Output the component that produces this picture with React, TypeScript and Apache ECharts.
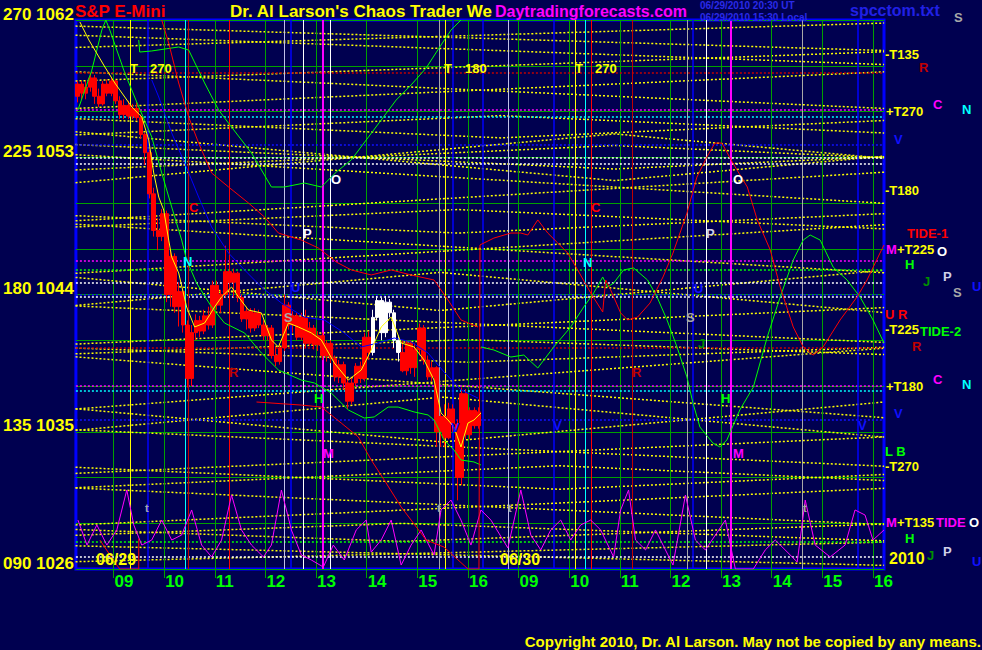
import React, { useEffect, useRef } from 'react';
import * as echarts from 'echarts';

// ---------- axis ticks ----------
const xTickHours = [0, 1, 2, 3, 4, 5, 6, 7, 8, 9, 10, 11, 12, 13, 14, 15];
const xTickLabels = ['09', '10', '11', '12', '13', '14', '15', '16', '09', '10', '11', '12', '13', '14', '15', '16'];
const yTickPrices = [1026, 1035, 1044, 1053, 1062];
const yTickAngles = ['090', '135', '180', '225', '270'];

// ---------- 5-minute candles from 08:15 on 06/29: [open, close, low, high] ----------
const candleStartHour = -0.75;
const candles = [
  [1057.0, 1057.8, 1056.6, 1058.0], [1057.8, 1057.2, 1056.8, 1058.0], [1057.2, 1057.6, 1056.8, 1058.0], [1057.6, 1058.2, 1057.3, 1058.5],
  [1058.2, 1057.0, 1056.5, 1058.4], [1057.0, 1056.5, 1056.3, 1057.5], [1056.5, 1057.8, 1056.4, 1058.0], [1057.8, 1057.2, 1057.0, 1058.1],
  [1057.2, 1058.0, 1057.0, 1058.2], [1058.0, 1056.7, 1056.5, 1058.1], [1056.7, 1055.8, 1055.5, 1057.0], [1055.8, 1056.4, 1055.5, 1056.8],
  [1056.4, 1055.7, 1055.5, 1056.7], [1055.7, 1056.2, 1055.5, 1056.5], [1056.2, 1055.6, 1055.4, 1056.6], [1055.6, 1054.5, 1054.2, 1055.8],
  [1054.5, 1053.3, 1052.5, 1054.6], [1053.3, 1050.6, 1050.3, 1053.5], [1050.6, 1048.2, 1047.8, 1051.0], [1048.2, 1047.8, 1046.9, 1049.0],
  [1047.8, 1049.3, 1047.5, 1049.6], [1049.3, 1044.0, 1043.5, 1049.5], [1044.0, 1046.5, 1043.2, 1047.0], [1046.5, 1043.2, 1042.8, 1046.7],
  [1043.2, 1044.2, 1041.9, 1044.8], [1044.2, 1042.0, 1041.5, 1044.4], [1042.0, 1038.5, 1037.9, 1042.3], [1038.5, 1041.5, 1038.0, 1042.0],
  [1041.5, 1042.3, 1041.0, 1042.7], [1042.3, 1041.6, 1041.2, 1042.6], [1041.6, 1042.6, 1041.4, 1043.0], [1042.6, 1042.0, 1041.7, 1043.2],
  [1042.0, 1044.6, 1041.8, 1044.9], [1044.6, 1043.3, 1043.0, 1044.9], [1043.3, 1044.0, 1042.8, 1044.3], [1044.0, 1045.5, 1043.8, 1047.2],
  [1045.5, 1044.8, 1044.5, 1046.5], [1044.8, 1045.4, 1043.8, 1045.7], [1045.4, 1043.8, 1043.5, 1045.5], [1043.8, 1042.4, 1042.2, 1044.0],
  [1042.4, 1042.9, 1041.7, 1043.2], [1042.9, 1041.8, 1041.5, 1043.1], [1041.8, 1042.8, 1041.6, 1043.1], [1042.8, 1042.0, 1041.8, 1043.0],
  [1042.0, 1041.3, 1041.0, 1042.3], [1041.3, 1041.8, 1041.0, 1042.0], [1041.8, 1040.0, 1039.8, 1042.0], [1040.0, 1039.6, 1039.3, 1040.6],
  [1039.6, 1040.5, 1039.4, 1040.8], [1040.5, 1043.3, 1040.3, 1044.0], [1043.3, 1042.0, 1041.7, 1043.5], [1042.0, 1042.6, 1041.5, 1042.9],
  [1042.6, 1041.2, 1041.0, 1042.8], [1041.2, 1042.5, 1041.0, 1042.8], [1042.5, 1040.8, 1040.5, 1043.0], [1040.8, 1041.8, 1040.6, 1042.2],
  [1041.8, 1040.7, 1040.4, 1042.0], [1040.7, 1041.3, 1040.3, 1041.6], [1041.3, 1040.0, 1039.7, 1041.5], [1040.0, 1040.8, 1039.6, 1041.0],
  [1040.8, 1039.8, 1039.5, 1041.0], [1039.8, 1038.6, 1038.3, 1040.0], [1038.6, 1039.4, 1038.2, 1039.7], [1039.4, 1038.2, 1037.8, 1039.6],
  [1038.2, 1037.0, 1036.5, 1038.5], [1037.0, 1038.2, 1036.8, 1038.6], [1038.2, 1039.3, 1038.0, 1039.5], [1039.3, 1038.5, 1038.2, 1039.6],
  [1038.5, 1041.2, 1038.3, 1041.5], [1041.2, 1040.2, 1039.7, 1041.6], [1040.2, 1042.5, 1040.0, 1043.0], [1042.5, 1043.6, 1042.3, 1043.9],
  [1043.6, 1041.5, 1041.0, 1043.8], [1041.5, 1043.5, 1041.2, 1043.9], [1043.5, 1042.8, 1042.5, 1043.7], [1042.8, 1041.0, 1040.5, 1043.0],
  [1041.0, 1040.2, 1039.6, 1041.3], [1040.2, 1039.0, 1038.9, 1041.0], [1039.0, 1040.8, 1038.7, 1041.0], [1040.8, 1039.2, 1038.8, 1041.0],
  [1039.2, 1040.4, 1038.6, 1040.8], [1040.4, 1041.8, 1040.0, 1042.1], [1041.8, 1039.7, 1039.4, 1042.0], [1039.7, 1038.6, 1038.4, 1040.0],
  [1038.6, 1039.2, 1038.3, 1039.6], [1039.2, 1035.0, 1034.0, 1039.3], [1035.0, 1036.0, 1034.0, 1036.2], [1036.0, 1034.6, 1034.0, 1036.8],
  [1034.6, 1036.5, 1034.5, 1036.9], [1036.5, 1035.5, 1035.0, 1036.8], [1035.5, 1032.0, 1030.5, 1035.8], [1032.0, 1037.5, 1031.5, 1037.9],
  [1037.5, 1034.8, 1034.5, 1037.8], [1034.8, 1036.4, 1034.5, 1036.6], [1036.4, 1035.4, 1035.2, 1036.6], [1035.4, 1036.3, 1035.2, 1036.6],
];
const whiteCandleFirst = 70;
const whiteCandleLast = 76;

// ---------- lines [hour index, price] ----------
const greenLine1 = [
  [-0.703, 1056.1], [-0.428, 1058.72], [-0.231, 1061.34], [-0.152, 1062.0], [-0.073, 1061.34], [0.223, 1058.52], [0.498, 1056.3],
  [0.755, 1054.33], [0.952, 1051.97], [1.149, 1049.74], [1.346, 1047.57], [1.444, 1046.26], [1.641, 1044.75], [1.937, 1043.18],
  [2.193, 1042.13], [2.587, 1041.48], [2.922, 1040.16], [3.257, 1039.05], [3.71, 1038.39], [3.966, 1038.2], [4.301, 1037.54],
  [4.637, 1036.43], [4.952, 1035.9], [5.149, 1035.97], [5.425, 1036.62], [5.622, 1036.62], [5.937, 1036.3], [6.213, 1036.1],
  [6.331, 1035.77], [6.528, 1034.46], [6.725, 1033.8], [6.863, 1033.15], [7.119, 1033.02], [7.257, 1032.82],
];
const greenLine2 = [
  [0.498, 1060.69], [0.518, 1059.9], [0.755, 1059.97], [1.287, 1060.23], [1.484, 1060.03], [1.799, 1057.87], [2.075, 1056.1],
  [2.331, 1054.98], [2.725, 1053.28], [3.119, 1051.05], [3.375, 1051.05], [3.769, 1051.31], [4.104, 1051.05], [4.4, 1052.03],
  [4.696, 1052.82], [4.991, 1054.13], [5.287, 1055.44], [5.582, 1056.75], [5.878, 1057.74], [6.174, 1058.85], [6.469, 1060.36],
  [6.666, 1061.34], [6.863, 1062.0],
];
const greenLine3 = [
  [7.257, 1040.56], [7.513, 1040.36], [7.848, 1039.9], [8.104, 1040.03], [8.38, 1039.18], [8.695, 1040.56], [9.03, 1041.87],
  [9.287, 1043.18], [9.484, 1044.1], [9.662, 1045.15], [9.76, 1044.49], [9.878, 1044.75], [10.075, 1045.61], [10.272, 1045.74],
  [10.548, 1044.95], [10.735, 1043.84], [10.932, 1042.33], [11.129, 1040.56], [11.326, 1038.59], [11.444, 1036.89], [11.582, 1035.31],
  [11.838, 1034.26], [11.976, 1034.0], [12.114, 1034.46], [12.37, 1036.43], [12.637, 1037.93], [12.912, 1041.21], [13.168, 1043.84],
  [13.425, 1046.26], [13.622, 1047.57], [13.76, 1047.9], [13.957, 1047.57], [14.213, 1045.8], [14.489, 1044.95], [14.745, 1043.84],
  [15.001, 1042.33], [15.218, 1040.82],
];
const redLine1 = [
  [0.952, 1062.0], [1.09, 1060.49], [1.287, 1057.87], [1.484, 1055.64], [1.681, 1053.93], [1.937, 1051.97], [2.272, 1051.05],
  [2.666, 1050.0], [2.981, 1049.08], [3.257, 1048.03], [3.71, 1047.57], [4.045, 1047.05], [4.4, 1046.13], [4.696, 1045.61],
  [5.09, 1045.28], [5.484, 1045.61], [5.878, 1045.28], [6.331, 1044.95], [6.607, 1043.64], [6.863, 1042.33], [7.198, 1041.87],
];
const redLine2 = [
  [2.824, 1036.95], [3.71, 1036.75], [4.104, 1036.62], [4.498, 1035.57], [4.834, 1034.66], [5.09, 1033.15], [5.346, 1031.84],
  [5.681, 1030.07], [5.878, 1029.21], [6.174, 1027.9], [6.528, 1027.44], [7.001, 1026.0], [7.218, 1026.0], [7.238, 1047.25],
  [7.513, 1047.7], [7.848, 1048.03], [8.045, 1048.03], [8.183, 1047.9], [8.38, 1048.89], [8.577, 1048.03], [8.774, 1047.38],
  [8.971, 1046.72], [9.168, 1045.61], [9.425, 1044.1], [9.662, 1042.85], [9.721, 1044.95], [9.819, 1044.3], [10.016, 1042.79],
  [10.154, 1042.33], [10.351, 1042.52], [10.597, 1043.44], [10.853, 1045.15], [11.05, 1046.72], [11.326, 1049.34], [11.523, 1051.7],
  [11.72, 1053.02], [11.878, 1053.93], [12.016, 1053.93], [12.233, 1052.62], [12.518, 1051.05], [12.715, 1048.89], [12.971, 1046.92],
  [13.168, 1044.49], [13.425, 1041.87], [13.622, 1040.56], [13.819, 1040.03], [14.016, 1040.56], [14.351, 1042.33], [14.686, 1043.84],
  [14.883, 1044.95], [15.139, 1046.72], [15.218, 1047.25],
];
const redLine0 = [[-0.27, 1027.9], [0.065, 1026.26], [0.125, 1026.0], [0.498, 1026.0], [0.498, 1028.0]];
const blueLine1 = [
  [0.755, 1058.07], [0.893, 1056.95], [1.149, 1054.59], [1.405, 1052.62], [1.681, 1050.39], [1.937, 1048.43], [2.272, 1046.72],
  [2.587, 1045.61], [2.922, 1044.49], [3.316, 1043.44], [3.769, 1042.52], [4.163, 1042.33], [4.558, 1041.48], [4.893, 1040.56],
  [5.228, 1040.82], [5.543, 1041.15], [5.878, 1040.89], [6.213, 1040.16], [6.528, 1038.92], [6.863, 1037.74], [7.198, 1037.21],
];
const yellowSmooth = [
  [-0.664, 1061.87], [-0.487, 1060.69], [-0.171, 1058.92], [0.026, 1057.87], [0.361, 1056.3], [0.558, 1055.64], [0.696, 1054.13],
  [0.794, 1051.97], [0.893, 1050.39], [0.991, 1049.54], [1.09, 1047.57], [1.149, 1046.46], [1.287, 1045.41], [1.444, 1043.18],
  [1.602, 1041.87], [1.799, 1042.13], [1.996, 1043.18], [2.134, 1043.84], [2.331, 1044.49], [2.469, 1043.84], [2.666, 1042.98],
  [2.922, 1042.79], [3.119, 1041.02], [3.257, 1040.56], [3.454, 1042.13], [3.651, 1041.87], [3.907, 1041.48], [4.104, 1041.02],
  [4.36, 1039.51], [4.637, 1038.39], [4.893, 1039.05], [5.09, 1040.36], [5.287, 1041.87], [5.484, 1042.52], [5.681, 1040.82],
  [5.937, 1040.56], [6.134, 1039.7], [6.331, 1038.39], [6.469, 1036.23], [6.607, 1035.77], [6.725, 1035.31], [6.863, 1034.0],
  [7.001, 1035.57], [7.119, 1035.77], [7.257, 1036.23],
];
const magentaOsc = [
  [-0.703, 1029.21], [-0.524, 1027.57], [-0.329, 1028.89], [-0.132, 1027.57], [0.065, 1028.56], [0.262, 1031.18], [0.4, 1028.89],
  [0.558, 1027.57], [0.755, 1027.9], [0.952, 1029.21], [1.149, 1027.9], [1.346, 1028.23], [1.543, 1029.87], [1.74, 1027.57],
  [1.937, 1026.79], [2.134, 1027.9], [2.331, 1030.85], [2.528, 1028.56], [2.725, 1027.57], [2.961, 1026.79], [3.119, 1027.57],
  [3.316, 1031.18], [3.513, 1028.56], [3.71, 1026.92], [3.907, 1026.59], [4.144, 1026.13], [4.341, 1027.57], [4.558, 1026.59],
  [4.794, 1028.56], [4.991, 1029.21], [5.09, 1027.11], [5.287, 1027.9], [5.484, 1029.21], [5.681, 1026.26], [5.878, 1027.57],
  [6.075, 1028.56], [6.331, 1026.92], [6.469, 1029.87], [6.666, 1030.52], [6.863, 1029.21], [7.06, 1027.57], [7.257, 1029.87],
  [7.454, 1029.21], [7.789, 1027.38], [8.045, 1031.18], [8.242, 1028.23], [8.439, 1027.25], [8.636, 1028.56], [8.833, 1029.21],
  [9.03, 1027.9], [9.227, 1028.89], [9.425, 1029.21], [9.622, 1028.56], [9.878, 1026.79], [10.016, 1029.87], [10.173, 1031.18],
  [10.311, 1027.9], [10.508, 1027.25], [10.705, 1028.56], [11.05, 1026.26], [11.296, 1030.85], [11.493, 1027.9], [11.69, 1027.25],
  [11.888, 1028.23], [12.085, 1029.21], [12.282, 1026.0], [12.637, 1026.0], [12.873, 1027.25], [13.07, 1027.9], [13.504, 1026.46],
  [13.662, 1030.52], [13.859, 1027.57], [14.154, 1026.79], [14.449, 1027.57], [14.646, 1029.87], [14.843, 1029.54], [15.001, 1027.9],
  [15.218, 1028.56],
];

// ---------- yellow dotted time/price guide lines ----------
const yellowGuides = [
  [[-0.75, 1061.6], [15.22, 1060.0]], [[-0.75, 1060.2], [15.22, 1061.8]],
  [[-0.75, 1061.0], [15.22, 1059.08]], [[-0.75, 1058.0], [15.22, 1059.92]],
  [[-0.75, 1058.6], [15.22, 1056.2]], [[-0.75, 1056.2], [15.22, 1058.6]],
  [[-0.75, 1055.53], [2.8, 1055], [7.65, 1054.27], [12.5, 1055], [15.22, 1055.41]],
  [[-0.75, 1054.47], [2.8, 1055], [7.65, 1055.73], [12.5, 1055], [15.22, 1054.59]],
  [[-0.75, 1054.67], [4.8, 1053], [9.9, 1051.47], [15, 1053], [15.22, 1053.07]],
  [[-0.75, 1051.33], [4.8, 1053], [9.9, 1054.53], [15, 1053], [15.22, 1052.93]],
  [[-0.75, 1053.83], [4.8, 1053], [9.9, 1052.23], [15, 1053], [15.22, 1053.03]],
  [[-0.75, 1052.17], [4.8, 1053], [9.9, 1053.77], [15, 1053], [15.22, 1052.97]],
  [[-0.75, 1053.17], [15.22, 1049.98]], [[-0.75, 1048.83], [15.22, 1052.02]],
  [[-0.75, 1049.17], [1.7, 1048.8], [6.8, 1048.03], [11.9, 1048.8], [15.22, 1049.3]],
  [[-0.75, 1048.43], [1.7, 1048.8], [6.8, 1049.57], [11.9, 1048.8], [15.22, 1048.3]],
  [[-0.75, 1048.61], [15.22, 1045.42]], [[-0.75, 1045.39], [15.22, 1048.58]],
  [[-0.75, 1045.12], [2.3, 1044.2], [6.45, 1042.95], [10.6, 1044.2], [15.22, 1045.59]],
  [[-0.75, 1043.28], [2.3, 1044.2], [6.45, 1045.45], [10.6, 1044.2], [15.22, 1042.81]],
  [[-0.75, 1043.25], [15.22, 1040.86]], [[-0.75, 1040.75], [15.22, 1043.14]],
  [[-0.75, 1040.49], [0.8, 1040.3], [7.0, 1039.56], [13.2, 1040.3], [15.22, 1040.54]],
  [[-0.75, 1040.11], [0.8, 1040.3], [7.0, 1041.04], [13.2, 1040.3], [15.22, 1040.06]],
  [[-0.75, 1039.91], [15.22, 1035.92]], [[-0.75, 1036.49], [15.22, 1040.48]],
  [[-0.75, 1036.51], [1.6, 1035.8], [6.5, 1034.33], [11.4, 1035.8], [15.22, 1036.95]],
  [[-0.75, 1035.09], [1.6, 1035.8], [6.5, 1037.27], [11.4, 1035.8], [15.22, 1034.65]],
  [[-0.75, 1035.13], [15.22, 1032.74]], [[-0.75, 1032.27], [15.22, 1034.66]],
  [[-0.75, 1032.67], [3.7, 1032], [8.8, 1031.23], [13.9, 1032], [15.22, 1032.2]],
  [[-0.75, 1031.33], [3.7, 1032], [8.8, 1032.77], [13.9, 1032], [15.22, 1031.8]],
  [[-0.75, 1031.31], [15.22, 1028.91]], [[-0.75, 1028.89], [15.22, 1031.29]],
  [[-0.75, 1028.59], [0.8, 1028.4], [5.7, 1027.81], [10.6, 1028.4], [15.22, 1028.95]],
  [[-0.75, 1028.21], [0.8, 1028.4], [5.7, 1028.99], [10.6, 1028.4], [15.22, 1027.85]],
  [[-0.75, 1027.52], [15.22, 1026.24]], [[-0.75, 1026.48], [15.22, 1027.76]],
];

// ---------- horizontal levels (price) ----------
const darkRedLevels = [1058.52, 1040.5];
const magentaLevels = [1056.1, 1046.2, 1038.0];
const cyanLevels = [1055.64, 1037.67];
const blueLevels = [1053.8, 1044.0, 1035.77];
const whiteLevels = [1053.0, 1052.6, 1044.75, 1043.85, 1026.8];
const greenLevels = [1045.6, 1027.77];

// ---------- vertical time markers (hour index) ----------
const yellowVerticals = [0.343, 6.55, 9.11];
const blueVerticals = [0.678, 3.513, 6.71, 7.3, 8.697, 11.45, 14.69];
const cyanVerticals = [1.409, 9.31];
const redVerticals = [2.293, 9.425];
const darkRedVerticals = [1.484, 10.25];
const lavenderVerticals = [3.377, 7.79];
const greyVerticals = [6.43, 11.336, 13.6];
const whiteVerticals = [3.75, 4.282, 11.71];
const magentaVerticals = [4.144, 12.2];

const FONT = '"Liberation Sans", Arial, Helvetica, sans-serif';

function markSeries(values: number[], axis: 'x' | 'y', color: string, type: any, width: number) {
  return {
    type: 'line',
    data: [],
    silent: true,
    markLine: {
      silent: true,
      animation: false,
      symbol: ['none', 'none'],
      label: { show: false },
      lineStyle: { color, type, width },
      data: values.map((v) => (axis === 'x' ? { xAxis: v } : { yAxis: v })),
    },
  };
}

function lineSeries(data: number[][], color: string, width = 1, type: any = 'solid', z = 5) {
  return {
    type: 'line',
    data,
    showSymbol: false,
    symbol: 'none',
    silent: true,
    z,
    lineStyle: { color, width, type },
  };
}

function txt(text: string, x: number, y: number, fill: string, size = 13, align = 'left') {
  return {
    type: 'text',
    x,
    y,
    z: 100,
    silent: true,
    style: {
      text, fill, font: `bold ${size}px ${FONT}`, align, verticalAlign: 'middle',
      lineHeight: Math.round(size * 0.75),
    },
  };
}

function buildOption() {
  const candleData = candles.map((c, i) => {
    const h = candleStartHour + (i + 0.5) / 12;
    const white = i >= whiteCandleFirst && i <= whiteCandleLast;
    const item: any = { value: [h, c[0], c[1], c[2], c[3]] };
    if (white) {
      item.itemStyle = { color: '#ffffff', color0: '#ffffff', borderColor: '#ffffff', borderColor0: '#ffffff' };
    }
    return item;
  });

  const C = {
    yellow: '#ffff00', red: '#ff0000', darkRed: '#c00000', magenta: '#ff00ff', cyan: '#00ffff',
    blue: '#1010ff', green: '#00ff00', darkGreen: '#009000', lav: '#d0d0e8', grey: '#a8a8a8', white: '#ffffff',
  };

  const graphics: any[] = [
    txt('S&P E-Mini', 75, 11, C.red, 17),
    txt("Dr. Al Larson's Chaos Trader We", 230, 11, C.yellow, 17),
    txt('Daytradingforecasts.com', 495, 11, C.magenta, 16),
    txt('06/29/2010 20:30 UT', 700, 5, '#2a2ae8', 10),
    txt('06/29/2010 15:30 Local', 700, 17, '#2a2ae8', 10),
    txt('spcctom.txt', 850, 10, '#2020e6', 16),
    txt('S', 954, 17, C.grey, 13),
    // in-plot annotations
    txt('T', 130, 68, C.yellow, 13), txt('270', 150, 68, C.yellow, 13),
    txt('T', 444, 68, C.yellow, 13), txt('180', 465, 68, C.yellow, 13),
    txt('T', 575, 68, C.yellow, 13), txt('270', 595, 68, C.yellow, 13),
    txt('C', 189, 207, C.red), txt('N', 183, 261, C.cyan), txt('R', 229, 372, C.darkRed),
    txt('P', 303, 233, C.white), txt('O', 331, 179, C.white), txt('U', 291, 287, C.blue),
    txt('S', 284, 317, C.grey), txt('H', 314, 398, C.green), txt('M', 323, 453, C.magenta),
    txt('V', 451, 427, C.blue),
    txt('C', 591, 207, C.red), txt('N', 583, 262, C.cyan), txt('O', 733, 179, C.white),
    txt('P', 706, 233, C.lav), txt('U', 694, 288, C.blue), txt('S', 686, 317, C.grey),
    txt('J', 698, 343, C.darkGreen), txt('R', 632, 372, C.darkRed), txt('H', 721, 398, C.green),
    txt('V', 553, 425, C.blue), txt('V', 858, 425, C.blue), txt('M', 733, 453, C.magenta),
    txt('t', 145, 508, C.grey, 11), txt('t', 437, 508, C.grey, 11), txt('t', 508, 508, C.grey, 11), txt('t', 803, 508, C.grey, 11),
    txt('06/29', 96, 559, C.yellow, 16), txt('06/30', 500, 559, C.yellow, 16),
    // right-hand legend
    txt('-T135', 885, 54, C.yellow), txt('R', 919, 67, C.darkRed),
    txt('C', 933, 104, C.magenta), txt('N', 962, 109, C.cyan), txt('+T270', 886, 111, C.yellow),
    txt('V', 894, 139, C.blue), txt('-T180', 885, 190, C.yellow),
    txt('TIDE-1', 907, 233, C.red), txt('M', 886, 249, C.magenta), txt('+T225', 897, 249, C.yellow),
    txt('O', 937, 251, C.white), txt('H', 905, 264, C.green), txt('J', 923, 281, C.darkGreen),
    txt('P', 943, 276, C.lav), txt('S', 953, 292, C.grey), txt('U', 972, 286, C.blue),
    txt('U R', 885, 314, C.red), txt('-T225', 885, 329, C.yellow), txt('TIDE-2', 920, 331, C.green),
    txt('R', 912, 346, C.darkRed), txt('C', 933, 379, C.magenta), txt('N', 962, 384, C.cyan),
    txt('+T180', 886, 386, C.yellow), txt('V', 894, 413, C.blue),
    txt('L B', 885, 451, C.green), txt('-T270', 885, 466, C.yellow),
    txt('M', 886, 522, C.magenta), txt('+T135', 897, 522, C.yellow), txt('TIDE', 936, 522, C.magenta),
    txt('O', 969, 522, C.white), txt('H', 905, 538, C.green), txt('J', 927, 555, C.darkGreen),
    txt('P', 943, 551, C.lav), txt('U', 972, 561, C.blue),
    txt('2010', 889, 558, C.yellow, 16),
    txt('Copyright 2010, Dr. Al Larson. May not be copied by any means.', 981, 641, C.yellow, 15, 'right'),
  ];

  const series: any[] = [];
  series.push(markSeries(xTickHours, 'x', '#00a000', 'solid', 1));
  yellowGuides.forEach((g) => series.push(lineSeries(g, C.yellow, 1.5, [2, 2], 2)));
  series.push(markSeries(darkRedLevels, 'y', C.darkRed, [2, 2], 1.5));
  series.push(markSeries(magentaLevels, 'y', C.magenta, [2, 2], 1.5));
  series.push(markSeries(cyanLevels, 'y', C.cyan, [2, 2], 1.5));
  series.push(markSeries(blueLevels, 'y', C.blue, [2, 2], 1.5));
  series.push(markSeries(whiteLevels, 'y', C.white, [2, 2], 1.5));
  series.push(markSeries(greenLevels, 'y', C.green, [2, 2], 1.5));
  series.push(markSeries(yellowVerticals, 'x', C.yellow, 'solid', 1));
  series.push(markSeries(blueVerticals, 'x', '#0000ff', 'solid', 1.5));
  series.push(markSeries(cyanVerticals, 'x', C.cyan, 'solid', 1));
  series.push(markSeries(redVerticals, 'x', C.red, 'solid', 1));
  series.push(markSeries(darkRedVerticals, 'x', C.darkRed, 'solid', 1));
  series.push(markSeries(lavenderVerticals, 'x', '#c0c0e8', 'solid', 1));
  series.push(markSeries(greyVerticals, 'x', C.grey, 'solid', 1));
  series.push(markSeries(whiteVerticals, 'x', C.white, 'solid', 1));
  series.push(markSeries(magentaVerticals, 'x', C.magenta, 'solid', 2));
  series.push({
    type: 'candlestick',
    data: candleData,
    encode: { x: 0, y: [1, 2, 3, 4] },
    barWidth: 4,
    silent: true,
    z: 6,
    itemStyle: { color: C.red, color0: C.red, borderColor: C.red, borderColor0: C.red, borderWidth: 1 },
  });
  series.push(lineSeries(magentaOsc, C.magenta, 1, 'solid', 7));
  series.push(lineSeries(greenLine1, C.green, 1, 'solid', 7));
  series.push(lineSeries(greenLine2, C.green, 1, 'solid', 7));
  series.push(lineSeries(greenLine3, C.green, 1, 'solid', 7));
  series.push(lineSeries(redLine0, C.red, 1, 'solid', 7));
  series.push(lineSeries(redLine1, C.red, 1, 'solid', 7));
  series.push(lineSeries(redLine2, C.red, 1, 'solid', 7));
  series.push(lineSeries(blueLine1, '#0000ff', 1, 'solid', 7));
  series.push(lineSeries(yellowSmooth, C.yellow, 1, 'solid', 8));

  return {
    animation: false,
    backgroundColor: '#000050',
    grid: {
      left: 74, top: 20, width: 810, height: 549, show: true,
      borderColor: '#0000ff', borderWidth: 3, backgroundColor: 'transparent',
    },
    xAxis: {
      type: 'value',
      min: -0.743,
      max: 15.218,
      axisLine: { show: false },
      splitLine: { show: false },
      axisTick: { show: true, customValues: xTickHours, length: 9, lineStyle: { color: '#00a000', width: 1 } },
      axisLabel: {
        show: true,
        customValues: xTickHours,
        formatter: (v: number) => xTickLabels[Math.round(v)] ?? '',
        color: '#00ff00',
        fontSize: 17,
        fontWeight: 'bold',
        fontFamily: FONT,
        align: 'left',
        margin: 4,
        padding: [0, 0, 0, 1],
      },
    },
    yAxis: {
      type: 'value',
      min: 1026,
      max: 1062,
      interval: 3,
      axisLine: { show: false },
      axisTick: { show: false },
      splitLine: { show: true, lineStyle: { color: '#00a000', width: 1, type: 'solid' } },
      axisLabel: {
        show: true,
        formatter: (v: number) => {
          const i = yTickPrices.indexOf(Math.round(v));
          return i >= 0 ? `${yTickAngles[i]} ${Math.round(v)}` : '';
        },
        color: '#ffff00',
        fontSize: 17,
        fontWeight: 'bold',
        fontFamily: FONT,
        margin: 2,
        verticalAlign: 'bottom',
        lineHeight: 12,
      },
    },
    graphic: graphics,
    series,
  };
}

export default function App() {
  const ref = useRef<HTMLDivElement>(null);
  useEffect(() => {
    if (!ref.current) return;
    const chart = echarts.init(ref.current, null, { renderer: 'svg' });
    chart.setOption(buildOption() as any);
    return () => chart.dispose();
  }, []);
  return <div ref={ref} style={{ position: 'absolute', left: 0, top: 0, width: 982, height: 650 }} />;
}
